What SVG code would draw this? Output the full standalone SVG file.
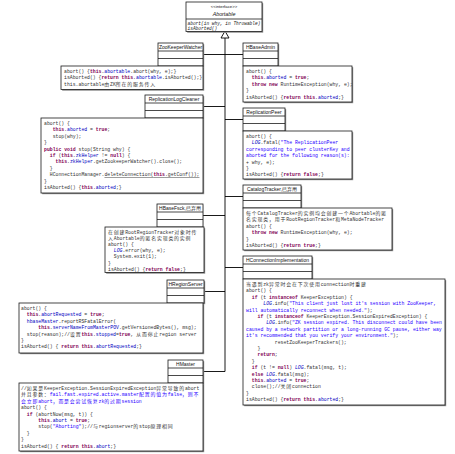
<svg xmlns="http://www.w3.org/2000/svg" width="455" height="454" viewBox="0 0 455 454">
<style>
.bg{fill:#fff}
.sh{fill:#8a8a8a}
.bx{fill:#fff;stroke:#1a1a1a;stroke-width:0.8}
.dv{stroke:#1a1a1a;stroke-width:0.8}
.nm{font-family:"Liberation Sans",sans-serif;font-size:5px;fill:#111;text-anchor:middle}
.t{font-family:"Liberation Mono","Noto Sans CJK SC",monospace;font-size:4.8px;fill:#333}
.c{font-family:"Noto Sans CJK SC",sans-serif;font-size:4.9px;letter-spacing:0.85px}
.k{fill:#7F0055;font-weight:bold}
.f{fill:#0000C0}
.s{fill:#2A00FF}
.L{fill:#0000C0;font-style:italic}
.b{fill:#2A00FF}
.u{text-decoration:underline}
.ln{stroke:#000;stroke-width:0.9;fill:none}
.it{font-family:"Liberation Mono",monospace;font-size:4.5px;fill:#222;font-style:italic}
</style>
<rect class="bg" x="0" y="0" width="455" height="454"/>

<g id="connectors">
<line class="ln" x1="225" y1="38" x2="225" y2="371.5"/>
<line class="ln" x1="203" y1="54.5" x2="225" y2="54.5"/>
<line class="ln" x1="225" y1="54.5" x2="243" y2="54.5"/>
<line class="ln" x1="203" y1="106.5" x2="225" y2="106.5"/>
<line class="ln" x1="225" y1="119.5" x2="243" y2="119.5"/>
<line class="ln" x1="225" y1="196.5" x2="243" y2="196.5"/>
<line class="ln" x1="203" y1="215.5" x2="225" y2="215.5"/>
<line class="ln" x1="225" y1="267.5" x2="243" y2="267.5"/>
<line class="ln" x1="204" y1="291.5" x2="225" y2="291.5"/>
<line class="ln" x1="203" y1="371.5" x2="225" y2="371.5"/>
<polygon points="225,31 221,38 229,38" fill="#fff" stroke="#000" stroke-width="0.9"/>
</g>

<g id="Abortable">
<rect class="sh" x="187.2" y="3.2" width="76" height="29.5"/>
<rect class="bx" x="186" y="2" width="76" height="29.5"/>
<line class="dv" x1="186" y1="19" x2="262" y2="19"/>
<text class="nm" x="224" y="8" style="font-size:4.3px">&lt;&lt;interface&gt;&gt;</text>
<text class="nm" x="224" y="16" style="font-style:italic;font-size:5.3px">Abortable</text>
<text class="it" x="187.5" y="24.5">abort(in why, in Throwable)</text>
<text class="it" x="187.5" y="29.8">isAborted()</text>
</g>

<g id="ZooKeeperWatcher">
<rect class="sh" x="159.2" y="44.2" width="45" height="23"/>
<rect class="bx" x="158" y="43" width="45" height="23"/>
<line class="dv" x1="158" y1="51" x2="203" y2="51"/>
<line class="dv" x1="158" y1="58.5" x2="203" y2="58.5"/>
<text class="nm" x="180.5" y="49.3">ZooKeeperWatcher</text>
<rect class="sh" x="62.2" y="67.2" width="142" height="23.5"/>
<rect class="bx" x="61" y="66" width="142" height="23.5"/>
<text class="t" xml:space="preserve" x="64" y="73">abort() {<tspan class="k">this</tspan>.<tspan class="f">abortable</tspan>.abort(why, e);}</text>
<text class="t" xml:space="preserve" x="64" y="79.4">isAborted() {<tspan class="k">return</tspan> <tspan class="k">this</tspan>.<tspan class="f">abortable</tspan>.isAborted();}</text>
<text class="t" xml:space="preserve" x="64" y="85.8">this.abortable<tspan class="c">由</tspan>ZK<tspan class="c">所在的服务传入</tspan></text>
</g>

<g id="HBaseAdmin">
<rect class="sh" x="244.2" y="44.2" width="35" height="23"/>
<rect class="bx" x="243" y="43" width="35" height="23"/>
<line class="dv" x1="243" y1="51" x2="278" y2="51"/>
<line class="dv" x1="243" y1="58.5" x2="278" y2="58.5"/>
<text class="nm" x="260.5" y="49.3">HBaseAdmin</text>
<rect class="sh" x="244.2" y="67.2" width="109" height="36"/>
<rect class="bx" x="243" y="66" width="109" height="36"/>
<text class="t" xml:space="preserve" x="246" y="73">abort() {</text>
<text class="t" xml:space="preserve" x="246" y="79.4">  <tspan class="k">this</tspan>.<tspan class="f">aborted</tspan> = <tspan class="k">true</tspan>;</text>
<text class="t" xml:space="preserve" x="246" y="85.8">  <tspan class="k">throw</tspan> <tspan class="k">new</tspan> RuntimeException(why, e);</text>
<text class="t" xml:space="preserve" x="246" y="92.2">}</text>
<text class="t" xml:space="preserve" x="246" y="98.6">isAborted() {<tspan class="k">return</tspan> <tspan class="k">this</tspan>.<tspan class="f">aborted</tspan>;}</text>
</g>

<g id="ReplicationLogCleaner">
<rect class="sh" x="146.2" y="96.2" width="58" height="23"/>
<rect class="bx" x="145" y="95" width="58" height="23"/>
<line class="dv" x1="145" y1="103" x2="203" y2="103"/>
<line class="dv" x1="145" y1="110.5" x2="203" y2="110.5"/>
<text class="nm" x="174" y="101.3">ReplicationLogCleaner</text>
<rect class="sh" x="42.2" y="119.2" width="162" height="75"/>
<rect class="bx" x="41" y="118" width="162" height="75"/>
<text class="t" xml:space="preserve" x="44" y="125">abort() {</text>
<text class="t" xml:space="preserve" x="44" y="131.4">   <tspan class="k">this</tspan>.<tspan class="f">aborted</tspan> = <tspan class="k">true</tspan>;</text>
<text class="t" xml:space="preserve" x="44" y="137.8">   stop(why);</text>
<text class="t" xml:space="preserve" x="44" y="144.2">}</text>
<text class="t" xml:space="preserve" x="44" y="150.6"><tspan class="k">public</tspan> <tspan class="k">void</tspan> stop(String why) {</text>
<text class="t" xml:space="preserve" x="44" y="157">  <tspan class="k">if</tspan> (<tspan class="k">this</tspan>.<tspan class="f">zkHelper</tspan> != <tspan class="k">null</tspan>) {</text>
<text class="t" xml:space="preserve" x="44" y="163.4">    <tspan class="k">this</tspan>.<tspan class="f">zkHelper</tspan>.getZookeeperWatcher().close();</text>
<text class="t" xml:space="preserve" x="44" y="169.8">  }</text>
<text class="t" xml:space="preserve" x="44" y="176.2">  HConnectionManager.<tspan class="u">deleteConnection(<tspan class="k">this</tspan>.getConf());</tspan></text>
<text class="t" xml:space="preserve" x="44" y="182.6">}</text>
<text class="t" xml:space="preserve" x="44" y="189">isAborted() {<tspan class="k">this</tspan>.<tspan class="f">aborted</tspan>;}</text>
</g>

<g id="ReplicationPeer">
<rect class="sh" x="244.2" y="109.2" width="42" height="23"/>
<rect class="bx" x="243" y="108" width="42" height="23"/>
<line class="dv" x1="243" y1="116" x2="285" y2="116"/>
<line class="dv" x1="243" y1="123.5" x2="285" y2="123.5"/>
<text class="nm" x="264" y="114.3">ReplicationPeer</text>
<rect class="sh" x="244.2" y="132.2" width="109" height="48"/>
<rect class="bx" x="243" y="131" width="109" height="48"/>
<text class="t" xml:space="preserve" x="246" y="138">abort() {</text>
<text class="t" xml:space="preserve" x="246" y="144.4">  <tspan class="L">LOG</tspan>.fatal(<tspan class="s">"The ReplicationPeer</tspan></text>
<text class="t s" xml:space="preserve" x="246" y="150.8">corresponding to peer clusterKey and</text>
<text class="t s" xml:space="preserve" x="246" y="157.2">aborted for the following reason(s):</text>
<text class="t" xml:space="preserve" x="246" y="163.6">+ why, e);</text>
<text class="t" xml:space="preserve" x="246" y="170">}</text>
<text class="t" xml:space="preserve" x="246" y="176.4">isAborted() {<tspan class="k">return</tspan> <tspan class="k">false</tspan>;}</text>
</g>

<g id="CatalogTracker">
<rect class="sh" x="244.2" y="186.2" width="58" height="23"/>
<rect class="bx" x="243" y="185" width="58" height="23"/>
<line class="dv" x1="243" y1="193" x2="301" y2="193"/>
<line class="dv" x1="243" y1="200.5" x2="301" y2="200.5"/>
<text class="nm" x="272" y="191.3">CatalogTracker,已弃用</text>
<rect class="sh" x="244.2" y="209.2" width="149" height="42"/>
<rect class="bx" x="243" y="208" width="149" height="42"/>
<text class="t" xml:space="preserve" x="246" y="215"><tspan class="c">每个</tspan>CatalogTracker<tspan class="c">的实例均会创建一个</tspan>Abortable<tspan class="c">的匿</tspan></text>
<text class="t" xml:space="preserve" x="246" y="221.4"><tspan class="c">名实现类，用于</tspan>RootRegionTracker<tspan class="c">和</tspan>MetaNodeTracker</text>
<text class="t" xml:space="preserve" x="246" y="227.8">abort() {</text>
<text class="t" xml:space="preserve" x="246" y="234.2">  <tspan class="k">throw</tspan> <tspan class="k">new</tspan> RuntimeException(why, e);</text>
<text class="t" xml:space="preserve" x="246" y="240.6">}</text>
<text class="t" xml:space="preserve" x="246" y="247">isAborted() {<tspan class="k">return</tspan> <tspan class="k">true</tspan>;}</text>
</g>

<g id="HBaseFsck">
<rect class="sh" x="158.2" y="205.2" width="45" height="23"/>
<rect class="bx" x="157" y="204" width="46" height="23"/>
<line class="dv" x1="157" y1="212" x2="203" y2="212"/>
<line class="dv" x1="157" y1="219.5" x2="203" y2="219.5"/>
<text class="nm" x="180" y="210.3">HBaseFsck,已弃用</text>
<rect class="sh" x="106.2" y="228.2" width="99" height="45.5"/>
<rect class="bx" x="105" y="227" width="99" height="45.5"/>
<text class="t" xml:space="preserve" x="108" y="233.5"><tspan class="c">在创建</tspan>RootRegionTracker<tspan class="c">对象时传</tspan></text>
<text class="t" xml:space="preserve" x="108" y="239.7"><tspan class="c">入</tspan>Abortable<tspan class="c">的匿名实现类的实例</tspan></text>
<text class="t" xml:space="preserve" x="108" y="245.9">abort() {</text>
<text class="t" xml:space="preserve" x="108" y="252.1">  <tspan class="L">LOG</tspan>.error(why, e);</text>
<text class="t" xml:space="preserve" x="108" y="258.3">  System.exit(1);</text>
<text class="t" xml:space="preserve" x="108" y="264.5">}</text>
<text class="t" xml:space="preserve" x="108" y="270.7">isAborted() {<tspan class="k">return</tspan> <tspan class="k">false</tspan>;}</text>
</g>

<g id="HConnectionImplementation">
<rect class="sh" x="244.2" y="257.2" width="69" height="23"/>
<rect class="bx" x="243" y="256" width="69" height="23"/>
<line class="dv" x1="243" y1="264" x2="312" y2="264"/>
<line class="dv" x1="243" y1="271.5" x2="312" y2="271.5"/>
<text class="nm" x="277.5" y="262.3">HConnectionImplementation</text>
<rect class="sh" x="244.2" y="280.2" width="202" height="126"/>
<rect class="bx" x="243" y="279" width="202" height="126"/>
<text class="t" xml:space="preserve" x="246" y="286"><tspan class="c">当遇到</tspan>zk<tspan class="c">异常时会在下次使用</tspan>connection<tspan class="c">时重建</tspan></text>
<text class="t" xml:space="preserve" x="246" y="292.4">abort() {</text>
<text class="t" xml:space="preserve" x="246" y="298.8">  <tspan class="k">if</tspan> (t <tspan class="k">instanceof</tspan> KeeperException) {</text>
<text class="t" xml:space="preserve" x="246" y="305.2">      <tspan class="L">LOG</tspan>.info(<tspan class="s">"This client just lost it's session with ZooKeeper, </tspan></text>
<text class="t" xml:space="preserve" x="246" y="311.6"><tspan class="s">will automatically reconnect when needed."</tspan>);</text>
<text class="t" xml:space="preserve" x="246" y="318">    <tspan class="k">if</tspan> (t <tspan class="k">instanceof</tspan> KeeperException.SessionExpiredException) {</text>
<text class="t" xml:space="preserve" x="246" y="324.4">       <tspan class="L">LOG</tspan>.info(<tspan class="s">"ZK session expired. This disconnect could have been </tspan></text>
<text class="t s" xml:space="preserve" x="246" y="330.8">caused by a network partition or a long-running GC pause, either way </text>
<text class="t" xml:space="preserve" x="246" y="337.2"><tspan class="s">it's recommended that you verify your environment."</tspan>);</text>
<text class="t" xml:space="preserve" x="246" y="343.6">          resetZooKeeperTrackers();</text>
<text class="t" xml:space="preserve" x="246" y="350">    }</text>
<text class="t" xml:space="preserve" x="246" y="356.4">    <tspan class="k">return</tspan>;</text>
<text class="t" xml:space="preserve" x="246" y="362.8">  }</text>
<text class="t" xml:space="preserve" x="246" y="369.2">  <tspan class="k">if</tspan> (t != <tspan class="k">null</tspan>) <tspan class="L">LOG</tspan>.fatal(msg, t);</text>
<text class="t" xml:space="preserve" x="246" y="375.6">  <tspan class="k">else</tspan> <tspan class="L">LOG</tspan>.fatal(msg);</text>
<text class="t" xml:space="preserve" x="246" y="382">  <tspan class="k">this</tspan>.<tspan class="f">aborted</tspan> = <tspan class="k">true</tspan>;</text>
<text class="t" xml:space="preserve" x="246" y="388.4">  close();//<tspan class="c">关闭</tspan>connection</text>
<text class="t" xml:space="preserve" x="246" y="394.8">}</text>
<text class="t" xml:space="preserve" x="246" y="401.2">isAborted() {<tspan class="k">return</tspan> <tspan class="k">this</tspan>.<tspan class="f">aborted</tspan>;}</text>
</g>

<g id="HRegionServer">
<rect class="sh" x="168.2" y="281.2" width="37" height="23"/>
<rect class="bx" x="167" y="280" width="37" height="23"/>
<line class="dv" x1="167" y1="288" x2="204" y2="288"/>
<line class="dv" x1="167" y1="295.5" x2="204" y2="295.5"/>
<text class="nm" x="185.5" y="286.3">HRegionServer</text>
<rect class="sh" x="20.2" y="304.2" width="184" height="50"/>
<rect class="bx" x="19" y="303" width="184" height="50"/>
<text class="t" xml:space="preserve" x="21" y="310">abort() {</text>
<text class="t" xml:space="preserve" x="21" y="316.4">  <tspan class="k">this</tspan>.<tspan class="f">abortRequested</tspan> = <tspan class="k">true</tspan>;</text>
<text class="t" xml:space="preserve" x="21" y="322.8">  <tspan class="f">hbaseMaster</tspan>.reportRSFatalError(</text>
<text class="t" xml:space="preserve" x="21" y="329.2">      <tspan class="k">this</tspan>.<tspan class="f">serverNameFromMasterPOV</tspan>.getVersionedBytes(), msg);</text>
<text class="t" xml:space="preserve" x="21" y="335.6">  stop(reason);//<tspan class="c">设置</tspan><tspan class="k">this</tspan>.<tspan class="f">stopped</tspan>=<tspan class="k">true</tspan>, <tspan class="c">从而停止</tspan>region server</text>
<text class="t" xml:space="preserve" x="21" y="342">}</text>
<text class="t" xml:space="preserve" x="21" y="348.4">isAborted() { <tspan class="k">return</tspan> <tspan class="k">this</tspan>.<tspan class="f">abortRequested</tspan>;}</text>
</g>

<g id="HMaster">
<rect class="sh" x="169.2" y="361.2" width="35" height="23"/>
<rect class="bx" x="168" y="360" width="35" height="23"/>
<line class="dv" x1="168" y1="368" x2="203" y2="368"/>
<line class="dv" x1="168" y1="375.5" x2="203" y2="375.5"/>
<text class="nm" x="185.5" y="366.3">HMaster</text>
<rect class="sh" x="20.2" y="384.2" width="184" height="68"/>
<rect class="bx" x="19" y="383" width="184" height="68"/>
<text class="t" xml:space="preserve" x="21" y="390">//<tspan class="c">如果是</tspan>KeeperException.SessionExpiredException<tspan class="c">异常导致的</tspan>abort</text>
<text class="t" xml:space="preserve" x="21" y="396.4"><tspan class="c">并且参数：</tspan><tspan class="b">fail.fast.expired.active.master<tspan class="c">配置的值为</tspan>false<tspan class="c">，则不</tspan></tspan></text>
<text class="t b" xml:space="preserve" x="21" y="402.8"><tspan class="c">会立即</tspan>abort<tspan class="c">，而是会尝试恢复</tspan>zk<tspan class="c">的过期</tspan>session</text>
<text class="t" xml:space="preserve" x="21" y="409.2">abort() {</text>
<text class="t" xml:space="preserve" x="21" y="415.6">  <tspan class="k">if</tspan> (abortNow(msg, t)) {</text>
<text class="t" xml:space="preserve" x="21" y="422">      <tspan class="k">this</tspan>.<tspan class="f">abort</tspan> = <tspan class="k">true</tspan>;</text>
<text class="t" xml:space="preserve" x="21" y="428.4">      stop(<tspan class="s">"Aborting"</tspan>);//<tspan class="c">与</tspan>regionserver<tspan class="c">的</tspan>stop<tspan class="c">原理相同</tspan></text>
<text class="t" xml:space="preserve" x="21" y="434.8">  }</text>
<text class="t" xml:space="preserve" x="21" y="441.2">}</text>
<text class="t" xml:space="preserve" x="21" y="447.6">isAborted() { <tspan class="k">return</tspan> <tspan class="k">this</tspan>.<tspan class="f">abort</tspan>;}</text>
</g>
</svg>
